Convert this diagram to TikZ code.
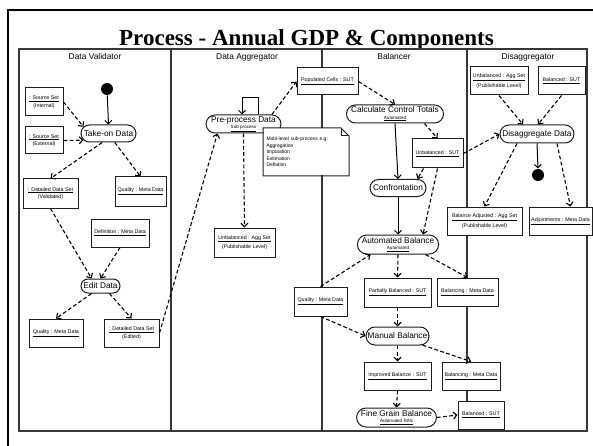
\documentclass[tikz,border=0pt]{standalone}
\usepackage{fontspec}
\setmainfont{Liberation Sans}
\newfontfamily\titlefont{Liberation Serif}
\usetikzlibrary{shapes.misc,arrows.meta}
\definecolor{laneline}{RGB}{55,55,55}
\definecolor{boxline}{RGB}{30,30,30}
\newcommand{\objname}[1]{\underline{#1}}
\newcommand{\objstate}[1]{\\[1.5pt]#1}
\newcommand{\actsub}[1]{\\[-2.5pt]{\fontsize{4.6}{5}\selectfont\underline{#1}}}

\begin{document}
\begin{tikzpicture}[x=1pt,y=-1pt,line width=1pt,
  lane/.style={draw=laneline,line width=1.3pt},
  lanehead/.style={font=\fontsize{8.4}{10}\selectfont},
  act/.style={rounded rectangle,draw=boxline,fill=white,inner sep=1pt,align=center,font=\fontsize{8.3}{9}\selectfont},
  obj/.style={draw=boxline,fill=white,inner sep=1pt,align=center,minimum height=28pt,font=\fontsize{5.3}{6}\selectfont},
  dot/.style={circle,fill,inner sep=0pt,minimum size=12pt},
  flow/.style={line width=1.1pt,dash pattern=on 3.8pt off 2.4pt,-{Straight Barb[length=3.5pt,width=7pt]}},
  ctrl/.style={-{Straight Barb[length=3.5pt,width=7pt]}}]
  \useasboundingbox (0,0) rectangle (593,446);
  \draw[line width=2.5pt] (8,10) rectangle (640,480);
  \node[anchor=base,font=\titlefont\bfseries\fontsize{23}{26}\selectfont] (title) at (306.5,45.5) {Process - Annual GDP \& Components};

  \draw[lane] (19,49) rectangle (587,431);
  \foreach \x in {171,322,467}
    \draw[lane] (\x,49) -- (\x,431);
  \node[lanehead] (hdval) at (95,57) {Data Validator};
  \node[lanehead] (hdagg) at (247,57) {Data Aggregator};
  \node[lanehead] (hdbal) at (394,57) {Balancer};
  \node[lanehead] (hddis) at (528,57) {Disaggregator};

  % Data Validator
  \node[dot] (start) at (107,89) {};
  \node[act,minimum width=57pt,minimum height=17pt] (takeon) at (108.5,133.5) {Take-on Data};
  \node[obj,minimum width=38pt] (srcint) at (44,102) {\objname{: Source Set}\objstate{(Internal)}};
  \node[obj,minimum width=38pt,minimum height=27pt] (srcext) at (44,140.5) {\objname{: Source Set}\objstate{(External)}};
  \node[obj,minimum width=55pt,minimum height=29pt] (detval) at (50.5,193.5) {\objname{: Detailed Data Set}\objstate{(Validated)}};
  \node[obj,minimum width=51pt,minimum height=29pt] (qualval) at (140.5,191.5) {\objname{Quality : Meta Data}};
  \node[obj,minimum width=58pt] (defn) at (120,233) {\objname{Definition : Meta Data}};
  \node[act,minimum width=41pt,minimum height=14pt] (edit) at (100.5,286) {Edit Data};
  \node[obj,minimum width=54pt] (qualedit) at (56,333) {\objname{Quality : Meta Data}};
  \node[obj,minimum width=55pt] (detedit) at (131.5,333) {\objname{: Detailed Data Set}\objstate{(Edited)}};

  % Data Aggregator
  \node[act,minimum width=73pt,minimum height=18pt] (preproc) at (243.5,124) {Pre-process Data\actsub{Sub process}};
  \node[obj,minimum width=61pt,minimum height=27pt] (popcells) at (327.5,81.5) {\objname{Populated Cells : SUT}};
  \node[obj,minimum width=61pt,minimum height=29pt] (unbagg) at (244.5,242.5) {\objname{Unbalanced : Agg Set}\objstate{(Publishable Level)}};
  \node[obj,minimum width=53pt,minimum height=29pt] (qualbal) at (320.5,301.5) {\objname{Quality : Meta Data}};
  \node[fill=white,anchor=north west,minimum width=85pt,minimum height=47pt,inner sep=3pt,text width=79pt,align=left,font=\fontsize{5}{6.6}\selectfont] (note) at (263,128) {Multi-level sub-process e.g:\\Aggregation\\Imputation\\Estimation\\Deflation\par\vspace{8pt}};
  \draw[boxline] (note.north west) -- ([xshift=-8pt]note.north east) -- ([yshift=-8pt]note.north east) -- (note.south east) -- (note.south west) -- cycle;
  \draw[boxline] ([xshift=-8pt]note.north east) -- ++(0,8) -- ([yshift=-8pt]note.north east);

  % Balancer
  \node[act,minimum width=96pt,minimum height=18pt] (cct) at (395,114) {Calculate Control Totals\actsub{Automated}};
  \node[obj,minimum width=51pt,minimum height=29pt] (unbsut) at (437.5,153.5) {\objname{Unbalanced : SUT}};
  \node[act,minimum width=58pt,minimum height=17pt] (confr) at (398,188) {Confrontation};
  \node[act,minimum width=80pt,minimum height=19pt] (autob) at (398,244.5) {Automated Balance\actsub{Automated}};
  \node[obj,minimum width=67pt,minimum height=29pt] (partb) at (397.5,292.5) {\objname{Partially Balanced : SUT}};
  \node[obj,minimum width=61pt] (balmeta) at (467.5,292) {\objname{Balancing : Meta Data}};
  \node[act,minimum width=65pt,minimum height=18pt] (manb) at (397.5,336) {Manual Balance};
  \node[obj,minimum width=67pt] (impb) at (397.5,376) {\objname{Improved Balance : SUT}};
  \node[obj,minimum width=58pt] (balmetb) at (471,376) {\objname{Balancing : Meta Data}};
  \node[act,minimum width=77pt,minimum height=19pt] (fgb) at (396.5,417.5) {Fine Grain Balance\actsub{Automated RAS}};
  \node[obj,minimum width=46pt] (balsut) at (481,415) {\objname{Balanced : SUT}};

  % Disaggregator
  \node[obj,minimum width=58pt] (unbaggd) at (499,81) {\objname{Unbalanced : Agg Set}\objstate{(Publishable Level)}};
  \node[obj,minimum width=47pt] (balsutd) at (561.5,81) {\objname{Balanced : SUT}};
  \node[act,minimum width=76pt,minimum height=18pt] (disagg) at (537,134) {Disaggregate Data};
  \node[dot] (finish) at (538,175) {};
  \node[obj,minimum width=75pt] (baladj) at (484.5,221) {\objname{Balance Adjusted : Agg Set}\objstate{(Publishable Level)}};
  \node[obj,minimum width=63pt] (adjust) at (560.5,221) {\objname{Adjustments : Meta Data}};

  % flows
  \draw[ctrl] (start) -- (takeon.north);
  \draw[flow] (srcint.east) -- (takeon.165);
  \draw[flow] (srcext.east) -- (takeon.195);
  \draw[flow] (takeon.235) -- (detval.north);
  \draw[flow] (takeon.305) -- (qualval.north);
  \draw[flow] (detval.south) -- (edit.140);
  \draw[flow] (defn.south) -- (edit.north);
  \draw[flow] (edit.220) -- (qualedit.north);
  \draw[flow] (edit.320) -- (detedit.north);
  \draw[flow] (detedit.east) -- (preproc.200);
  \draw[ctrl] ([xshift=14.5pt]preproc.north) -- ++(0,-17) -| ([xshift=-1.5pt]preproc.north);
  \draw[flow] (preproc.north east) -- (popcells.west);
  \draw[flow] (preproc.south) -- (unbagg.north);
  \draw[flow] (popcells.east) -- (cct.north);
  \draw[flow] ([xshift=-10pt]cct.south east) -- (unbsut.north);
  \draw[ctrl] (cct.south) -- (confr.north);
  \draw[flow] ([xshift=-14pt]unbsut.south) -- (confr.north east);
  \draw[flow] (unbsut.east) -- (disagg.west);
  \draw[ctrl] (confr.south) -- (autob.north);
  \draw[flow] (unbsut.south) -- ([xshift=25pt]autob.north);
  \draw[flow] (qualbal.north) -- (autob.200);
  \draw[flow] (qualbal.south) -- (manb.west);
  \draw[flow] (autob.south) -- (partb.north);
  \draw[flow] (autob.340) -- (balmeta.north);
  \draw[flow] (partb.south) -- (manb.north);
  \draw[flow] (manb.340) -- (balmetb.north);
  \draw[flow] (manb.south) -- (impb.north);
  \draw[flow] (impb.south) -- (fgb.north);
  \draw[flow] (fgb.east) -- (balsut.west);
  \draw[flow] (unbaggd.south) -- ([xshift=-14pt]disagg.north);
  \draw[flow] (balsutd.south) -- ([xshift=1pt]disagg.north);
  \draw[ctrl] (disagg.south) -- (finish.north);
  \draw[flow] ([xshift=-20pt]disagg.south) -- (baladj.north);
  \draw[flow] ([xshift=20pt]disagg.south) -- ([xshift=10pt]adjust.north);
\end{tikzpicture}
\end{document}
